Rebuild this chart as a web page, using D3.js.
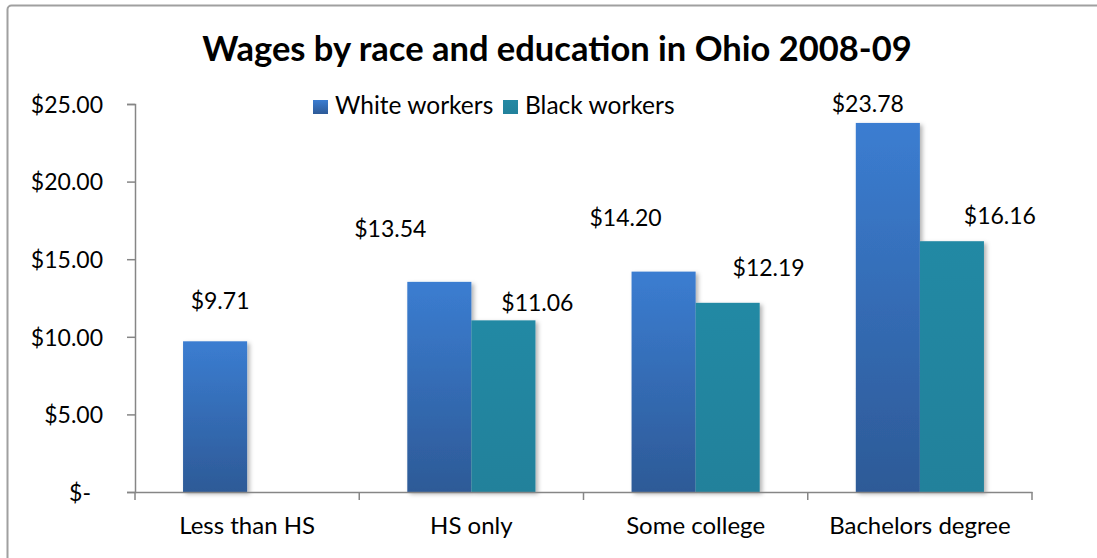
<!DOCTYPE html>
<html>
<head>
<meta charset="utf-8">
<script src="https://cdn.jsdelivr.net/npm/d3@7/dist/d3.min.js"></script>
<style>
  html, body { margin: 0; padding: 0; background: #fff; }
  svg { display: block; font-family: Lato, "Open Sans", sans-serif; }
</style>
</head>
<body>
<svg id="chart" width="1097" height="558"></svg>
<script>
// Education levels on the category axis
const categories = ["Less than HS", "HS only", "Some college", "Bachelors degree"];
// Series names shown in the legend
const seriesNames = ["White workers", "Black workers"];
// Median hourly wages (null = no reported value)
const whiteWages = [9.71, 13.54, 14.20, 23.78];
const blackWages = [null, 11.06, 12.19, 16.16];
// Value-axis ticks
const yTicks = [0, 5, 10, 15, 20, 25];

// Hand-placed data-label offsets from each bar's top centre [dx, dy to baseline]
const whiteLabelShift = [[5, -32], [-49, -45], [-38, -46], [-20, -11]];
const blackLabelShift = [null, [34, -9], [41, -27], [48, -17]];

const svg = d3.select("#chart");
const plot = { left: 135, right: 1032, top: 104, bottom: 492 };

const defs = svg.append("defs");
const gW = defs.append("linearGradient").attr("id", "gWhite")
  .attr("x1", 0).attr("y1", 0).attr("x2", 0).attr("y2", 1);
gW.append("stop").attr("offset", "0%").attr("stop-color", "#3b7dd1");
gW.append("stop").attr("offset", "100%").attr("stop-color", "#2d5a97");
const gB = defs.append("linearGradient").attr("id", "gBlack")
  .attr("x1", 0).attr("y1", 0).attr("x2", 0).attr("y2", 1);
gB.append("stop").attr("offset", "0%").attr("stop-color", "#2489a4");
gB.append("stop").attr("offset", "100%").attr("stop-color", "#22819b");
const shadow = defs.append("filter").attr("id", "shadow")
  .attr("x", "-20%").attr("y", "-10%").attr("width", "150%").attr("height", "130%");
shadow.append("feDropShadow").attr("dx", 2.5).attr("dy", 2).attr("stdDeviation", 2)
  .attr("flood-color", "#000").attr("flood-opacity", 0.3);

// Chart frame
svg.append("rect").attr("x", 7.5).attr("y", 5.5).attr("width", 1200).attr("height", 700)
  .attr("rx", 4).attr("fill", "#fff").attr("stroke", "#a0a0a0").attr("stroke-width", 2);

// Title
svg.append("text").attr("x", 557).attr("y", 61).attr("text-anchor", "middle")
  .attr("font-size", 34.5).attr("font-weight", "bold").attr("fill", "#000")
  .text("Wages by race and education in Ohio 2008-09");

const x0 = d3.scaleBand().domain(categories).range([plot.left, plot.right]).padding(0);
const x1 = d3.scaleBand().domain(seriesNames).range([0, x0.bandwidth()])
  .paddingInner(0).paddingOuter(0.75);
const y = d3.scaleLinear().domain([0, 25]).range([plot.bottom, plot.top]);

const fills = { "White workers": "url(#gWhite)", "Black workers": "url(#gBlack)" };
const rows = [];
categories.forEach((c, i) => {
  rows.push({ cat: c, s: seriesNames[0], v: whiteWages[i], shift: whiteLabelShift[i] });
  rows.push({ cat: c, s: seriesNames[1], v: blackWages[i], shift: blackLabelShift[i] });
});
const data = rows.filter(d => d.v != null);

// Bars
svg.append("g").attr("filter", "url(#shadow)")
  .selectAll("rect").data(data).join("rect")
  .attr("x", d => x0(d.cat) + x1(d.s))
  .attr("y", d => y(d.v))
  .attr("width", x1.bandwidth())
  .attr("height", d => y(0) - y(d.v))
  .attr("fill", d => fills[d.s]);

// Axes
const axisColor = "#868686";
const yAxis = svg.append("g").attr("transform", `translate(${plot.left},0)`)
  .call(d3.axisLeft(y).tickValues(yTicks).tickSize(8).tickPadding(24)
    .tickFormat(d => d === 0 ? "$-" : "$" + d3.format(".2f")(d)));
yAxis.select(".domain").attr("stroke", axisColor).attr("stroke-width", 1.5);
yAxis.selectAll(".tick line").attr("stroke", axisColor).attr("stroke-width", 1.5);
yAxis.selectAll(".tick text").attr("font-size", 23).attr("fill", "#000")
  .attr("font-family", "Lato, sans-serif").attr("dy", "0.36em")
  .attr("dx", d => d === 0 ? -12 : 0);

const xAxis = svg.append("g").attr("transform", `translate(0,${plot.bottom})`)
  .call(d3.axisBottom(x0).tickSize(0).tickPadding(25));
xAxis.select(".domain").attr("stroke", axisColor).attr("stroke-width", 1.5);
xAxis.selectAll(".tick text").attr("font-size", 24).attr("fill", "#000")
  .attr("font-family", "Lato, sans-serif");
// Category divider ticks
const edges = categories.map(c => x0(c)).concat([plot.right]);
svg.append("g").selectAll("line").data(edges).join("line")
  .attr("x1", d => d).attr("x2", d => d)
  .attr("y1", plot.bottom).attr("y2", plot.bottom + 8)
  .attr("stroke", axisColor).attr("stroke-width", 1.5);

// Data labels
svg.append("g").selectAll("text").data(data).join("text")
  .attr("x", d => x0(d.cat) + x1(d.s) + x1.bandwidth() / 2 + d.shift[0])
  .attr("y", d => y(d.v) + d.shift[1])
  .attr("text-anchor", "middle").attr("font-size", 23).attr("fill", "#000")
  .text(d => "$" + d3.format(".2f")(d.v));

// Legend
const legendX = [313, 503];
const legend = svg.append("g").selectAll("g").data(seriesNames).join("g")
  .attr("transform", (d, i) => `translate(${legendX[i]},100)`);
legend.append("rect").attr("width", 15).attr("height", 14).attr("fill", d => fills[d]);
legend.append("text").attr("x", 22).attr("y", 13.5).attr("font-size", 24.5)
  .attr("fill", "#000").text(d => d);
</script>
</body>
</html>
